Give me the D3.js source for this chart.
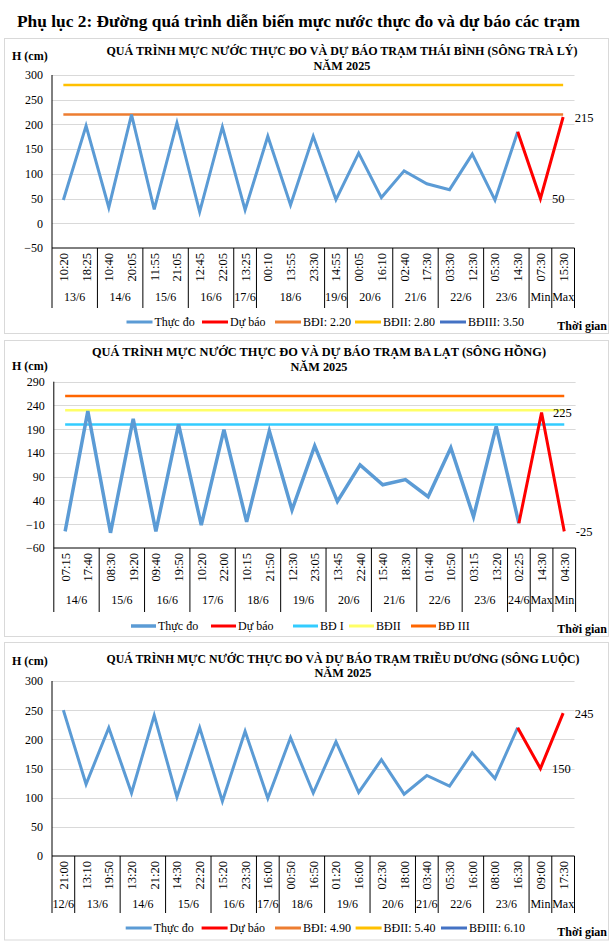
<!DOCTYPE html>
<html><head><meta charset="utf-8">
<script src="https://cdn.jsdelivr.net/npm/d3@7"></script>
<style>
body{margin:0;background:#fff}
svg{display:block}
text{font-family:"Liberation Serif","Times New Roman",serif;fill:#000}
</style>
</head><body>
<svg id="c" width="613" height="945"></svg>
<script>
// ---------- Chart 1: Thái Bình ----------
const tbCategories = ["10:20","18:25","10:40","20:05","11:55","21:05","12:45","22:05","13:25","00:10","13:55","23:30","14:55","00:05","16:10","02:40","17:30","03:30","12:30","05:30","14:30","07:30","15:30"];
const tbGroups = ["13/6","14/6","15/6","16/6","17/6","18/6","19/6","20/6","21/6","22/6","23/6","Min","Max"];
const tbGroupSizes = [2,2,2,2,1,3,1,2,2,2,2,1,1];
const tbMeasured = [47,197,32,220,28,203,23,195,27,176,37,176,48,142,52,106,80,68,140,47,185,null,null];
const tbForecast = [null,null,null,null,null,null,null,null,null,null,null,null,null,null,null,null,null,null,null,null,185,50,215];
const tbThresholdNames = ["BĐI: 2.20","BĐII: 2.80","BĐIII: 3.50"];
const tbThresholdValues = [220,280,350];
const tbTicks = [-50,0,50,100,150,200,250,300];

// ---------- Chart 2: Ba Lạt ----------
const blCategories = ["07:15","17:40","08:30","19:20","09:40","19:50","10:20","22:00","10:15","21:50","12:30","23:05","13:45","22:40","15:40","18:30","01:40","10:50","03:15","13:20","02:25","14:30","04:30"];
const blGroups = ["14/6","15/6","16/6","17/6","18/6","19/6","20/6","21/6","22/6","23/6","24/6","Max","Min"];
const blGroupSizes = [2,2,2,2,2,2,2,2,2,2,1,1,1];
const blMeasured = [-25,228,-28,212,-25,200,-12,189,-5,186,20,155,38,115,73,84,48,151,6,196,-8,null,null];
const blForecast = [null,null,null,null,null,null,null,null,null,null,null,null,null,null,null,null,null,null,null,null,-8,225,-25];
const blThresholdNames = ["BĐ I","BĐII","BĐ III"];
const blThresholdValues = [200,230,260];
const blTicks = [-60,-10,40,90,140,190,240,290];

// ---------- Chart 3: Triều Dương ----------
const tdCategories = ["21:00","13:10","19:50","13:20","21:20","14:30","22:20","15:20","23:30","16:00","00:50","16:50","01:20","16:00","02:30","18:00","03:40","05:30","16:00","08:00","16:30","09:00","17:30"];
const tdGroups = ["12/6","13/6","14/6","15/6","16/6","17/6","18/6","19/6","20/6","21/6","22/6","23/6","Min","Max"];
const tdGroupSizes = [1,2,2,2,2,1,2,2,2,1,2,2,1,1];
const tdMeasured = [250,123,220,108,241,101,220,94,214,99,203,108,196,109,165,106,138,120,177,133,220,null,null];
const tdForecast = [null,null,null,null,null,null,null,null,null,null,null,null,null,null,null,null,null,null,null,null,220,150,245];
const tdThresholdNames = ["BĐI: 4.90","BĐII: 5.40","BĐIII: 6.10"];
const tdThresholdValues = [490,540,610];
const tdTicks = [0,50,100,150,200,250,300];

const mainTitle = "Phụ lục 2: Đường quá trình diễn biến mực nước thực đo và dự báo các trạm";

const svg = d3.select("#c");

svg.append("text").attr("x",17).attr("y",27)
  .attr("font-size",17).attr("font-weight","bold")
  .attr("textLength",563).attr("lengthAdjust","spacingAndGlyphs")
  .text(mainTitle);

const charts = [
  { id:"tb", box:[4.5,38.5,604,295], title:["QUÁ TRÌNH MỰC NƯỚC THỰC ĐO VÀ DỰ BÁO TRẠM THÁI BÌNH (SÔNG TRÀ LÝ)","NĂM 2025"],
    titleX:342, titleY:[55,70], titleW:[471,57], hY:60,
    x0:52, x1:574.5, yTop:75, yBot:248,
    cats:tbCategories, groups:tbGroups, sizes:tbGroupSizes, meas:tbMeasured, fc:tbForecast,
    thrNames:tbThresholdNames, thrVals:tbThresholdValues, thrColors:["#ED7D31","#FFC000","#4472C4"],
    ticks:tbTicks, groupY:301, sepBot:308, legendY:322, tgY:326,
    legendX:[126.5,202,275,355,440], legLen:26, measW:3 },
  { id:"bl", box:[4.5,340.5,604,296], title:["QUÁ TRÌNH MỰC NƯỚC THỰC ĐO VÀ DỰ BÁO TRẠM BA LẠT (SÔNG HỒNG)","NĂM 2025"],
    titleX:319, titleY:[356,371], titleW:[454,57], hY:370,
    x0:53.8, x1:575.6, yTop:381.7, yBot:548,
    cats:blCategories, groups:blGroups, sizes:blGroupSizes, meas:blMeasured, fc:blForecast,
    thrNames:blThresholdNames, thrVals:blThresholdValues, thrColors:["#33CCFF","#FFFF66","#FF6600"],
    ticks:blTicks, groupY:604, sepBot:612, legendY:626, tgY:629,
    legendX:[131,211,293,349,411], legLen:25, measW:3.5 },
  { id:"td", box:[4.5,642.5,604,297.5], title:["QUÁ TRÌNH MỰC NƯỚC THỰC ĐO VÀ DỰ BÁO TRẠM TRIỀU DƯƠNG  (SÔNG LUỘC)","NĂM 2025"],
    titleX:343, titleY:[663,677], titleW:[473,57], hY:665,
    x0:52, x1:574.5, yTop:681, yBot:856,
    cats:tdCategories, groups:tdGroups, sizes:tdGroupSizes, meas:tdMeasured, fc:tdForecast,
    thrNames:tdThresholdNames, thrVals:tdThresholdValues, thrColors:["#ED7D31","#FFC000","#4472C4"],
    ticks:tdTicks, groupY:908, sepBot:913, legendY:928, tgY:932,
    legendX:[125.7,201.6,275,355.6,441], legLen:26, measW:3 }
];

charts.forEach(c => {
  const g = svg.append("g");
  g.append("rect").attr("x",c.box[0]).attr("y",c.box[1]).attr("width",c.box[2]).attr("height",c.box[3])
    .attr("fill","#fff").attr("stroke","#D9D9D9").attr("stroke-width",1);

  c.title.forEach((t,i) => {
    g.append("text").attr("x",c.titleX).attr("y",c.titleY[i]).attr("text-anchor","middle")
      .attr("font-size",12.5).attr("font-weight","bold")
      .attr("textLength",c.titleW[i]).attr("lengthAdjust","spacingAndGlyphs").text(t);
  });
  g.append("text").attr("x",12).attr("y",c.hY).attr("font-size",12).attr("font-weight","bold").text("H (cm)");

  const n = c.cats.length;
  const xb = d3.scaleBand().domain(d3.range(n)).range([c.x0,c.x1]).paddingInner(0).paddingOuter(0);
  const bw = xb.bandwidth();
  const xc = i => xb(i) + bw/2;
  const y = d3.scaleLinear().domain([c.ticks[0], c.ticks[c.ticks.length-1]]).range([c.yBot,c.yTop]);

  const yAxisG = g.append("g").attr("transform",`translate(${c.x0},0)`)
    .call(d3.axisLeft(y).tickValues(c.ticks).tickSize(0).tickPadding(9).tickFormat(d3.format("d")));
  yAxisG.select(".domain").remove();
  yAxisG.selectAll("text").attr("font-size",12).attr("font-family","Liberation Serif");
  g.append("g").selectAll("line").data(c.ticks.slice(1)).join("line")
    .attr("x1",c.x0).attr("x2",c.x1).attr("y1",d=>Math.round(y(d))+0.5).attr("y2",d=>Math.round(y(d))+0.5)
    .attr("stroke","#D9D9D9").attr("stroke-width",1);
  g.append("line").attr("x1",c.x0).attr("x2",c.x0).attr("y1",y(c.ticks[c.ticks.length-1])).attr("y2",c.yBot)
    .attr("stroke","#000").attr("stroke-width",1);
  g.append("line").attr("x1",c.x0).attr("x2",c.x1).attr("y1",c.yBot).attr("y2",c.yBot)
    .attr("stroke","#000").attr("stroke-width",1);

  const cum = [0]; c.sizes.forEach(s => cum.push(cum[cum.length-1]+s));
  g.append("g").selectAll("line").data(cum).join("line")
    .attr("x1",d=>d===n? c.x1 : xb(d)).attr("x2",d=>d===n? c.x1 : xb(d))
    .attr("y1",c.yBot).attr("y2",c.sepBot).attr("stroke","#000").attr("stroke-width",1);

  g.append("g").selectAll("text").data(c.cats).join("text")
    .attr("transform",(d,i)=>`translate(${xc(i)+4.5},${c.yBot+5}) rotate(-90)`)
    .attr("text-anchor","end").attr("font-size",12.5).text(d=>d);

  g.append("g").selectAll("text").data(c.groups).join("text")
    .attr("x",(d,i)=> (xb(cum[i]) + (cum[i+1]===n ? c.x1 : xb(cum[i+1])))/2)
    .attr("y",c.groupY).attr("text-anchor","middle").attr("font-size",12)
    .attr("textLength",(d,i)=> c.sizes[i]===1 && d.length>3 ? Math.min(bw-1, 23) : null)
    .attr("lengthAdjust","spacingAndGlyphs")
    .text(d=>d);

  const clipId = "clip-"+c.id;
  svg.append("clipPath").attr("id",clipId).append("rect")
    .attr("x",c.x0).attr("y",c.yTop-3).attr("width",c.x1-c.x0+20).attr("height",c.yBot-c.yTop+3);
  const pg = g.append("g").attr("clip-path",`url(#${clipId})`);

  c.thrVals.forEach((v,k) => {
    pg.append("line").attr("x1",xc(0)).attr("x2",xc(n-1)).attr("y1",y(v)).attr("y2",y(v))
      .attr("stroke",c.thrColors[k]).attr("stroke-width",2.5);
  });

  const line = d3.line().defined(d=>d.v!==null).x(d=>xc(d.i)).y(d=>y(d.v)).curve(d3.curveLinear);
  pg.append("path").datum(c.meas.map((v,i)=>({i,v})))
    .attr("d",line).attr("fill","none").attr("stroke","#5B9BD5").attr("stroke-width",c.measW)
    .attr("stroke-linejoin","miter");
  pg.append("path").datum(c.fc.map((v,i)=>({i,v})))
    .attr("d",line).attr("fill","none").attr("stroke","#FF0000").attr("stroke-width",3);

  [n-2,n-1].forEach(i => {
    g.append("text").attr("x",xc(i)+11.5).attr("y",y(c.fc[i])+4.5).attr("font-size",12.5).text(c.fc[i]);
  });

  const legItems = [
    {name:"Thực đo", color:"#5B9BD5", w:c.measW},
    {name:"Dự báo", color:"#FF0000", w:3},
    {name:c.thrNames[0], color:c.thrColors[0], w:3},
    {name:c.thrNames[1], color:c.thrColors[1], w:3},
    {name:c.thrNames[2], color:c.thrColors[2], w:3}
  ];
  legItems.forEach((it,k) => {
    const lx = c.legendX[k];
    g.append("line").attr("x1",lx).attr("x2",lx+c.legLen).attr("y1",c.legendY).attr("y2",c.legendY)
      .attr("stroke",it.color).attr("stroke-width",it.w);
    g.append("text").attr("x",lx+c.legLen+2).attr("y",c.legendY+4).attr("font-size",12).text(it.name);
  });
  g.append("text").attr("x",607).attr("y",c.tgY+4).attr("text-anchor","end")
    .attr("font-size",12).attr("font-weight","bold").text("Thời gian");
});
</script>
</body></html>
